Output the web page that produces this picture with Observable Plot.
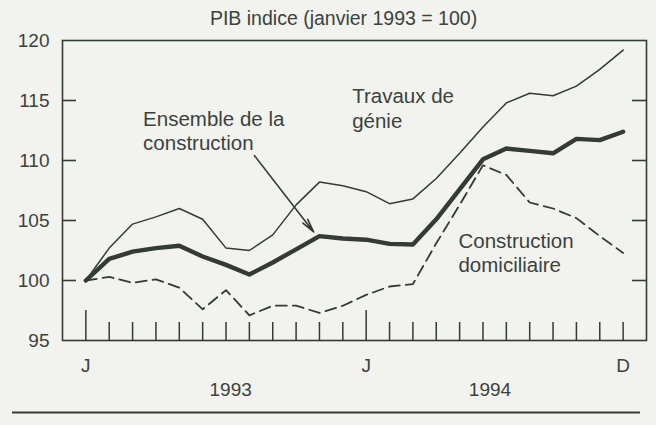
<!DOCTYPE html>
<html><head><meta charset="utf-8">
<script src="https://cdn.jsdelivr.net/npm/d3@7"></script>
<script src="https://cdn.jsdelivr.net/npm/@observablehq/plot@0.6"></script>
<style>
html,body{margin:0;padding:0;background:#f2f2ef;}
#chart svg{display:block;}
</style>
</head><body><div id="chart"></div>
<script>
// Months: index 0 = janvier 1993 ... 23 = décembre 1994
const months = d3.range(24);
const genie = [100, 102.7, 104.7, 105.3, 106.0, 105.1, 102.7, 102.5, 103.8, 106.3, 108.2, 107.9,
               107.4, 106.4, 106.8, 108.5, 110.6, 112.8, 114.8, 115.6, 115.4, 116.2, 117.6, 119.2];
const ensemble = [100, 101.8, 102.4, 102.7, 102.9, 102.0, 101.3, 100.5, 101.5, 102.6, 103.7, 103.5,
                  103.4, 103.05, 103.0, 105.1, 107.6, 110.1, 111.0, 110.8, 110.6, 111.8, 111.7, 112.4];
const domiciliaire = [100, 100.3, 99.8, 100.1, 99.4, 97.6, 99.2, 97.1, 97.9, 97.9, 97.3, 97.9,
                      98.8, 99.5, 99.7, 103.1, 106.3, 109.6, 108.8, 106.5, 106.0, 105.2, 103.7, 102.3];

const yTicks = [95, 100, 105, 110, 115, 120];
const yInnerTicks = [100, 105, 110, 115];
const monthLabels = ["J", "J", "D"];
const monthLabelPos = [0, 12, 23];
const yearLabels = ["1993", "1994"];
const yearLabelPos = [6.2, 17.3];

const title = "PIB indice (janvier 1993 = 100)";
const seriesLabels = [
  {text: "Ensemble de la\nconstruction", m: 2.45, v: 112.5},
  {text: "Travaux de\ngénie", m: 11.4, v: 114.4},
  {text: "Construction\ndomiciliaire", m: 15.95, v: 102.35}
];
const arrowAnn = [{x1: 7.22, y1: 110.4, x2: 9.75, y2: 104.05}];

const ink = "#343a35";
const textInk = "#3b423c";
const toRows = arr => months.map(i => ({m: i, v: arr[i]}));

const chart = Plot.plot({
  width: 656,
  height: 425,
  marginLeft: 62,
  marginRight: 10,
  marginTop: 40,
  marginBottom: 85,
  style: {background: "#f2f2ef", fontFamily: "'Liberation Sans', Arial, sans-serif", color: textInk, overflow: "visible"},
  x: {domain: [-1, 24], axis: null},
  y: {domain: [95, 120], axis: null},
  marks: [
    Plot.frame({stroke: ink, strokeWidth: 1.6}),
    // inner y ticks, left and right
    Plot.ruleY(yInnerTicks, {x1: -1, x2: -0.4, stroke: ink, strokeWidth: 1.6}),
    Plot.ruleY(yInnerTicks, {x1: 23.4, x2: 24, stroke: ink, strokeWidth: 1.6}),
    // month ticks rising from the bottom
    Plot.ruleX(months, {x: d => d, y1: 95, y2: d => d % 12 === 0 ? 97.5 : 96.5, stroke: ink, strokeWidth: 1.5}),
    // y labels
    Plot.text(yTicks, {x: -1, y: d => d, text: d => String(d), textAnchor: "end", dx: -13, fontSize: 19, fill: textInk}),
    // x labels
    Plot.text(monthLabels, {x: (d, i) => monthLabelPos[i], y: 92.9, text: d => d, fontSize: 19, fill: textInk}),
    Plot.text(yearLabels, {x: (d, i) => yearLabelPos[i], y: 90.85, text: d => d, fontSize: 19, fill: textInk}),
    // series
    Plot.line(toRows(domiciliaire), {x: "m", y: "v", stroke: ink, strokeWidth: 1.8, strokeDasharray: "11,6"}),
    Plot.line(toRows(genie), {x: "m", y: "v", stroke: ink, strokeWidth: 1.5}),
    Plot.line(toRows(ensemble), {x: "m", y: "v", stroke: ink, strokeWidth: 4.4, strokeLinejoin: "round"}),
    // annotations
    Plot.text(seriesLabels, {x: "m", y: "v", text: "text", textAnchor: "start", lineAnchor: "middle", lineHeight: 1.18, fontSize: 20.5, fill: textInk}),
    Plot.arrow(arrowAnn, {x1: "x1", y1: "y1", x2: "x2", y2: "y2", stroke: ink, strokeWidth: 1.6, headLength: 13, headAngle: 25}),
    // title
    Plot.text([title], {x: 11.03, y: 121.85, text: d => d, fontSize: 19.5, fill: textInk}),
    // bottom rule
    Plot.ruleY([89], {x1: -3.14, x2: 23.74, stroke: ink, strokeWidth: 2})
  ]
});
document.getElementById("chart").appendChild(chart);
</script>
</body></html>
